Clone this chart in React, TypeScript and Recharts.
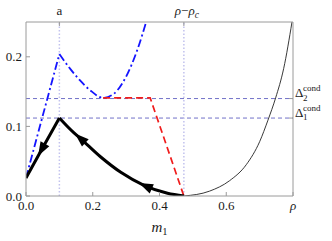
import { ComposedChart, Line, XAxis, YAxis, ReferenceLine } from "recharts";

// special points on the axes
const a = 0.1;
const rhoMinusRhoc = 0.473;
const rho = 0.8;
const delta1 = 0.112;
const delta2 = 0.14;

const xTicks = [0, 0.2, 0.4, 0.6, rho];
const yTicks = [0, 0.1, 0.2];
const topTicks = [a, rhoMinusRhoc];
const rightTicks = [delta1, delta2];

// blue dot-dashed curve
const blueRise = [
  { x: 0, y: 0.026 },
  { x: 0.1, y: 0.204 },
];
const blueCurve = [
  { x: 0.1, y: 0.204 },
  { x: 0.132, y: 0.183 },
  { x: 0.162, y: 0.166 },
  { x: 0.192, y: 0.152 },
  { x: 0.231, y: 0.141 },
  { x: 0.261, y: 0.146 },
  { x: 0.29, y: 0.163 },
  { x: 0.315, y: 0.187 },
  { x: 0.335, y: 0.212 },
  { x: 0.36, y: 0.25 },
];

// red dashed plateau
const redPath = [
  { x: 0.231, y: 0.141 },
  { x: 0.372, y: 0.141 },
  { x: 0.473, y: 0 },
];

// thin black curve
const thinBlack = [
  { x: 0.473, y: 0 },
  { x: 0.55, y: 0.007 },
  { x: 0.61, y: 0.022 },
  { x: 0.66, y: 0.045 },
  { x: 0.7, y: 0.078 },
  { x: 0.725, y: 0.109 },
  { x: 0.748, y: 0.141 },
  { x: 0.772, y: 0.183 },
  { x: 0.797, y: 0.25 },
];

// thick black trajectory (travelled towards smaller m1)
const thickRise = [
  { x: 0, y: 0.026 },
  { x: 0.045, y: 0.065 },
  { x: 0.1, y: 0.112 },
];
const thickCurve = [
  { x: 0.1, y: 0.112 },
  { x: 0.143, y: 0.091 },
  { x: 0.16, y: 0.084 },
  { x: 0.224, y: 0.056 },
  { x: 0.284, y: 0.034 },
  { x: 0.355, y: 0.015 },
  { x: 0.424, y: 0.004 },
  { x: 0.473, y: 0 },
];
const arrowAt = [0.045, 0.16, 0.355];

const FONT = '"Liberation Serif", "Times New Roman", "DejaVu Serif", serif';
const FRAME = "#9a9a9a";
const TEXT = "#1a1a1a";
const txt = { fontFamily: FONT, fontSize: 13, fill: TEXT };

function ArrowDot(props: any) {
  const { cx, cy, index, points, payload } = props;
  if (!points || !arrowAt.includes(payload.x)) return <g key={index} />;
  const prev = points[index - 1];
  const next = points[index + 1];
  const ang = (Math.atan2(prev.y - next.y, prev.x - next.x) * 180) / Math.PI;
  return (
    <path
      key={index}
      d="M6,0 L-8,-5 L-8,5 Z"
      transform={`translate(${cx},${cy}) rotate(${ang})`}
      fill="#000"
      stroke="none"
    />
  );
}

function BottomTick(props: any) {
  const { x, y, payload } = props;
  const v = payload.value;
  const axisY = y - 5;
  return (
    <g>
      <line x1={x} y1={axisY} x2={x} y2={axisY - 4} stroke={FRAME} />
      <text x={x} y={y} dy="0.71em" textAnchor="middle"
        style={{ ...txt, fontStyle: v === rho ? "italic" : "normal" }}>
        {v === rho ? "ρ" : v.toFixed(1)}
      </text>
    </g>
  );
}

function LeftTick(props: any) {
  const { x, y, payload } = props;
  const axisX = x + 4;
  return (
    <g>
      <line x1={axisX} y1={y} x2={axisX + 4} y2={y} stroke={FRAME} />
      <text x={x} y={y} dy="0.35em" textAnchor="end" style={txt}>
        {payload.value.toFixed(1)}
      </text>
    </g>
  );
}

function TopTick(props: any) {
  const { x, y, payload } = props;
  const axisY = y + 7;
  const first = payload.value === a;
  return (
    <g>
      <line x1={x} y1={axisY} x2={x} y2={axisY + 4} stroke={FRAME} />
      {first ? (
        <text x={x} y={y} textAnchor="middle" style={txt}>a</text>
      ) : (
        <text x={x + 3} y={y} textAnchor="middle" style={txt}>
          <tspan fontStyle="italic">ρ</tspan>
          <tspan>−</tspan>
          <tspan fontStyle="italic">ρ</tspan>
          <tspan fontStyle="italic" fontSize={9.5} dy={3}>c</tspan>
        </text>
      )}
    </g>
  );
}

function RightTick(props: any) {
  const { x, y, payload } = props;
  const axisX = x - 2;
  const sub = payload.value === delta1 ? "1" : "2";
  const base = y - 1.5;
  return (
    <g>
      <line x1={axisX} y1={y} x2={axisX - 4} y2={y} stroke={FRAME} />
      <text x={x} y={base} style={txt}>Δ</text>
      <text x={x + 8} y={base - 6} style={{ ...txt, fontSize: 9 }}>cond</text>
      <text x={x + 8} y={base + 3.5} style={{ ...txt, fontSize: 9 }}>{sub}</text>
    </g>
  );
}

function MLabel(props: any) {
  const vb = props.viewBox;
  return (
    <text x={vb.x + vb.width / 2} y={vb.y + 36} textAnchor="middle" style={{ ...txt, fontSize: 15 }}>
      <tspan fontStyle="italic">m</tspan>
      <tspan fontSize={10.5} dy={3}>1</tspan>
    </text>
  );
}

export default function App() {
  return (
    <div style={{ position: "absolute", left: 0, top: 0, background: "#fff" }}>
      <ComposedChart width={332} height={241} margin={{ top: 2, right: 2, bottom: 15, left: 2 }}>
        <XAxis
          type="number"
          dataKey="x"
          domain={[0, rho]}
          ticks={xTicks}
          interval={0}
          height={30}
          tickSize={0}
          tickMargin={5}
          tickLine={false}
          stroke={FRAME}
          tick={<BottomTick />}
          label={<MLabel />}
          allowDataOverflow
        />
        <XAxis
          xAxisId="top"
          orientation="top"
          type="number"
          dataKey="x"
          domain={[0, rho]}
          ticks={topTicks}
          interval={0}
          height={20}
          tickSize={0}
          tickMargin={7}
          tickLine={false}
          stroke={FRAME}
          tick={<TopTick />}
          allowDataOverflow
        />
        <YAxis
          type="number"
          domain={[0, 0.25]}
          ticks={yTicks}
          interval={0}
          width={24}
          tickSize={0}
          tickMargin={4}
          tickLine={false}
          stroke={FRAME}
          tick={<LeftTick />}
          allowDataOverflow
        />
        <YAxis
          yAxisId="right"
          orientation="right"
          type="number"
          domain={[0, 0.25]}
          ticks={rightTicks}
          interval={0}
          width={37}
          tickSize={0}
          tickMargin={2}
          tickLine={false}
          stroke={FRAME}
          tick={<RightTick />}
          allowDataOverflow
        />
        <ReferenceLine y={delta2} stroke="#7272c8" strokeDasharray="4 3" strokeWidth={1} />
        <ReferenceLine y={delta1} stroke="#7272c8" strokeDasharray="4 3" strokeWidth={1} />
        <ReferenceLine x={a} stroke="#c2c2ee" strokeDasharray="1.5 2" strokeWidth={1.5} />
        <ReferenceLine x={rhoMinusRhoc} stroke="#c2c2ee" strokeDasharray="1.5 2" strokeWidth={1.5} />

        <Line data={thinBlack} xAxisId="top" yAxisId="right" dataKey="y" type="monotone" stroke="#222" strokeWidth={0.9} dot={false} isAnimationActive={false} />
        <Line data={blueRise} dataKey="y" type="linear" stroke="#1414ff" strokeWidth={1.8} strokeDasharray="8 3 2 3" dot={false} isAnimationActive={false} />
        <Line data={blueCurve} dataKey="y" type="monotone" stroke="#1414ff" strokeWidth={1.8} strokeDasharray="8 3 2 3" dot={false} isAnimationActive={false} />
        <Line data={redPath} dataKey="y" type="linear" stroke="#f01c1c" strokeWidth={1.7} strokeDasharray="7 4" dot={false} isAnimationActive={false} />
        <Line data={thickRise} dataKey="y" type="linear" stroke="#000" strokeWidth={3} dot={<ArrowDot />} isAnimationActive={false} />
        <Line data={thickCurve} dataKey="y" type="monotone" stroke="#000" strokeWidth={3} dot={<ArrowDot />} isAnimationActive={false} />
      </ComposedChart>
    </div>
  );
}
